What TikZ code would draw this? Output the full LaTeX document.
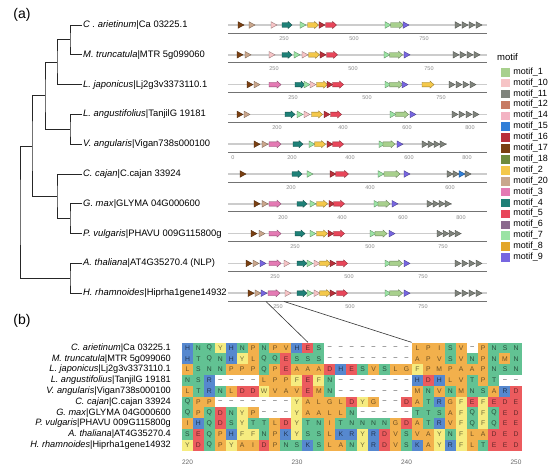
\documentclass[tikz,border=0pt]{standalone}
\usepackage{fontspec}
\setmainfont{Liberation Sans}
\usepackage{tikz}
\usetikzlibrary{positioning, calc}

% motif colours (legend order)
\definecolor{motif1}{HTML}{A8D08D}
\definecolor{motif10}{HTML}{F6C4C6}
\definecolor{motif11}{HTML}{7F837C}
\definecolor{motif12}{HTML}{C77A63}
\definecolor{motif14}{HTML}{F3B3C3}
\definecolor{motif15}{HTML}{2F7FD8}
\definecolor{motif16}{HTML}{B9303A}
\definecolor{motif17}{HTML}{7A4012}
\definecolor{motif18}{HTML}{6E8B3D}
\definecolor{motif2}{HTML}{F4C84A}
\definecolor{motif20}{HTML}{C9A68C}
\definecolor{motif3}{HTML}{E47AB4}
\definecolor{motif4}{HTML}{1E8077}
\definecolor{motif5}{HTML}{E8465A}
\definecolor{motif6}{HTML}{8B6A8E}
\definecolor{motif7}{HTML}{9BE3A4}
\definecolor{motif8}{HTML}{E3A62A}
\definecolor{motif9}{HTML}{7766E0}

% residue colours
\definecolor{resor}{HTML}{F2B04C}
\definecolor{resgr}{HTML}{62C293}
\definecolor{resye}{HTML}{F6EC80}
\definecolor{resbl}{HTML}{5688CF}
\definecolor{resrd}{HTML}{EC5B5E}
\colorlet{resgap}{white}
\colorlet{resortxt}{resor!45!black}
\colorlet{resgrtxt}{resgr!40!black}
\colorlet{resyetxt}{resye!45!black}
\colorlet{resbltxt}{resbl!40!black}
\colorlet{resrdtxt}{resrd!45!black}
\colorlet{resgaptxt}{black!80}

\newcommand\setgrp[2]{\expandafter\def\csname grp#1\endcsname{#2}}
\setgrp{A}{or}\setgrp{I}{or}\setgrp{L}{or}\setgrp{M}{or}\setgrp{V}{or}
\setgrp{P}{or}\setgrp{G}{or}\setgrp{C}{or}
\setgrp{N}{gr}\setgrp{Q}{gr}\setgrp{S}{gr}\setgrp{T}{gr}
\setgrp{F}{ye}\setgrp{Y}{ye}\setgrp{W}{ye}
\setgrp{H}{bl}\setgrp{K}{bl}\setgrp{R}{bl}
\setgrp{D}{rd}\setgrp{E}{rd}
\setgrp{-}{gap}
\def\gapchar{-}

% x/motif/length, length 0 = small triangle
\newcommand\motifrow[2]{%
  \foreach \mx/\mk/\mlen in {#2} {%
    \ifnum\mlen=0
      \path (\mx,#1) pic[fill=motif\mk, draw=motif\mk!60!black] {mtri};
    \else
      \path (\mx,#1) pic[fill=motif\mk, draw=motif\mk!60!black] {marrow=\mlen};
    \fi
  }}
% index, y, end of protein, ticks, motifs
\newcommand\track[5]{%
  \draw[backbone] (228,#2) -- (#3,#2);
  \draw[axisln] (228,#2+8) -- (487,#2+8);
  \foreach \tx/\tl in {#4} \node[ticklab] (k#1-\tl) at (\tx,#2+13.5) {\tl};
  \motifrow{#2}{#5}}

\begin{document}
\begin{tikzpicture}[
  x=1pt, y=-1pt,
  panel/.style={font=\fontsize{14}{16}\selectfont},
  tiplab/.style={anchor=west, inner sep=1pt, font=\fontsize{9.4}{10}\selectfont},
  alnlab/.style={anchor=east, inner sep=1pt, font=\fontsize{9.2}{10}\selectfont},
  branch/.style={line width=0.9pt, black!85},
  backbone/.style={line width=1.7pt, black!20},
  axisln/.style={line width=0.8pt, black!55},
  ticklab/.style={font=\fontsize{5.5}{6}\selectfont, text=black!45, inner sep=0},
  alntick/.style={font=\fontsize{6.5}{7}\selectfont, text=black!60, inner sep=0},
  rescell/.style={minimum width=11.2pt, minimum height=10.95pt, inner sep=0,
                  font=\fontsize{6.8}{7}\selectfont},
  swatch/.style={minimum width=10pt, minimum height=9.6pt, inner sep=0,
                 draw=white, line width=0.3pt},
  leglab/.style={anchor=west, inner sep=0, font=\fontsize{9}{9}\selectfont},
  zoomln/.style={line width=0.6pt, black!80},
  mtri/.pic={\filldraw[line width=0.35pt] (-3,-3.3) -- (3,0) -- (-3,3.3) -- cycle;},
  marrow/.pic={\filldraw[line width=0.35pt] ({-#1/2},-2.3) -- ({#1/2-4},-2.3)
     -- ({#1/2-4},-3.6) -- ({#1/2},0) -- ({#1/2-4},3.6) -- ({#1/2-4},2.3)
     -- ({-#1/2},2.3) -- cycle;}
]
\fill[white] (0,0) rectangle (554,471);
\useasboundingbox (0,0) rectangle (554,471);

\node[panel] (pa) at (22,15) {(a)};
\node[panel] (pb) at (22,321) {(b)};

% tree
\foreach \sp/\id [count=\i] in {C . arietinum/Ca 03225.1, M. truncatula/MTR 5g099060,
    L. japonicus/Lj2g3v3373110.1, L. angustifolius/TanjilG 19181,
    V. angularis/Vigan738s000100, C. cajan/C.cajan 33924, G. max/GLYMA 04G000600,
    P. vulgaris/PHAVU 009G115800g, A. thaliana/AT4G35270.4 (NLP),
    H. rhamnoides/Hiprha1gene14932}
  \node[tiplab] (t\i) at (82,{25+(\i-1)*29.8}) {\textit{\sp}|\id};
\coordinate (n12) at (70,39.9);
\coordinate (n123) at (57,62.25);
\coordinate (n45) at (70,129.3);
\coordinate (nA) at (45,95.8);
\coordinate (n78) at (70,218.7);
\coordinate (n678) at (57,196.35);
\coordinate (nB) at (32,146.1);
\coordinate (n910) at (70,278.3);
\coordinate (root) at (20,212.2);
\draw[branch] (t1.west) -| (n12) |- (t2.west);
\draw[branch] (n12) -| (n123) |- (t3.west);
\draw[branch] (t4.west) -| (n45) |- (t5.west);
\draw[branch] (n123) -| (nA) |- (n45);
\draw[branch] (t7.west) -| (n78) |- (t8.west);
\draw[branch] (t6.west) -| (n678) |- (n78);
\draw[branch] (nA) -| (nB) |- (n678);
\draw[branch] (t9.west) -| (n910) |- (t10.west);
\draw[branch] (nB) -| (root) |- (n910);

% motif tracks
\track{1}{25}{487}{284/250,354/500,424/750}{241/17/0,252/20/0,274/10/0,287/4/10,303/7/0,313/2/11,322/16/0,331/5/11,388/7/0,397/1/13,406/9/0,458/11/0,465/11/0,472/11/0,479/11/0}
\track{2}{54.8}{487}{274/250,353/500,429/750}{240/17/0,248/20/0,272/10/0,287/4/10,297/7/0,305/10/0,314/2/11,323/16/0,332/5/11,387/7/0,396/1/13,407/9/0,456/11/0,463/11/0,470/11/0,477/11/0}
\track{3}{84.6}{487}{293/250,367/500,441/750}{250/17/0,257/20/0,275/3/12,300/4/10,307/7/0,313/10/0,322/2/11,330/16/0,338/5/11,388/7/0,396/1/13,405/9/0,428/2/12,452/11/0,459/11/0,466/11/0,473/11/0}
\track{4}{114.4}{487}{277/200,343/400,407/600,470/800}{240/17/0,247/20/0,290/4/10,300/7/0,307/10/0,317/2/11,327/16/0,336/5/11,393/7/0,402/1/13,413/9/0,455/11/0,462/11/0,469/11/0,476/11/0}
\track{5}{144.2}{447}{233/0,292/200,350/400,409/600,467/800}{257/17/0,265/20/0,275/3/12,298/4/10,312/7/0,320/2/11,330/16/0,338/5/11,382/7/0,389/1/12,400/9/0,425/11/0,431/11/0,437/11/0,443/11/0}
\track{6}{174}{487}{291/200,370/400,450/600}{243/17/0,297/4/10,310/7/0,333/16/0,342/5/13,381/7/0,392/1/16,407/9/0,450/11/0,456/11/0,462/15/0,468/11/0}
\track{7}{203.8}{452}{283/200,342/400,403/600,461/800}{257/17/0,265/20/0,275/3/12,302/4/10,313/7/0,322/2/11,332/16/0,339/5/11,377/7/0,384/1/12,395/9/0,430/11/0,436/11/0,442/11/0,448/11/0}
\track{8}{233.6}{462}{295/250,370/500,443/750}{254/17/0,262/20/0,275/3/12,300/4/10,313/7/0,322/2/11,331/16/0,339/5/11,373/7/0,381/1/12,392/9/0,440/11/0,446/11/0,452/11/0,458/11/0}
\track{9}{263.4}{487}{275/250,349/500,423/750}{249/17/0,256/20/0,263/9/0,275/3/12,287/10/0,302/4/10,310/7/0,317/10/0,325/2/11,333/16/0,342/5/11,388/7/0,396/1/13,407/9/0,458/11/0,465/11/0,472/11/0,479/11/0}
\track{10}{293.2}{487}{278/250,350/500,423/750}{251/17/0,258/20/0,264/9/0,274/3/12,288/10/0,302/4/10,310/7/0,317/10/0,325/2/11,333/16/0,342/5/11,388/7/0,396/1/13,407/9/0,458/11/0,465/11/0,472/11/0,479/11/0}

% legend
\node[leglab, font=\fontsize{9.5}{10}\selectfont] (legtitle) at (497,57) {motif};
\foreach \m [count=\i] in {1,10,11,12,14,15,16,17,18,2,20,3,4,5,6,7,8,9} {
  \node[swatch, fill=motif\m] (sw\m) at (505,{61+\i*10.9}) {};
  \node[leglab, right=3pt of sw\m] (lg\m) {motif\_\m};
}

% alignment
\foreach \sp/\id [count=\r] in {C. arietinum/Ca 03225.1, M. truncatula/MTR 5g099060,
    L. japonicus/Lj2g3v3373110.1, L. angustifolius/TanjilG 19181,
    V. angularis/Vigan738s000100, C. cajan/C.cajan 33924, G. max/GLYMA 04G000600,
    P. vulgaris/PHAVU 009G115800g, A. thaliana/AT4G35270.4,
    H. rhamnoides/Hiprha1gene14932}
  \node[alnlab] (s\r) at (172,{342.6+(\r-0.5)*10.8}) {\textit{\sp}|\id};
\foreach \seq [count=\r] in {
    {H,N,Q,Y,H,N,P,N,P,V,H,E,S,-,-,-,-,-,-,-,-,L,P,I,S,V,-,P,N,S,N},
    {H,T,Q,N,H,Y,L,Q,Q,E,S,S,S,-,-,-,-,-,-,-,-,A,P,V,S,V,N,P,N,M,N},
    {L,S,N,N,P,P,P,Q,P,E,A,A,A,D,H,E,S,V,S,L,G,F,P,M,P,A,A,P,N,S,N},
    {N,S,R,-,-,-,-,L,P,P,F,E,F,N,-,-,-,-,-,-,-,H,D,H,L,V,T,P,T,-,-},
    {L,T,R,N,L,D,D,W,V,A,V,E,M,N,-,-,-,-,-,-,-,M,N,V,N,M,N,S,A,R,D},
    {Q,P,P,-,-,-,-,-,-,-,Y,A,L,G,L,D,Y,G,-,-,D,A,T,R,G,F,E,F,E,D,E},
    {Q,P,Q,D,N,Y,P,-,-,-,Y,A,A,L,L,N,-,-,-,-,-,T,T,S,A,F,Q,F,Q,E,D},
    {I,H,Q,D,S,Y,T,T,L,D,Y,T,N,I,T,N,N,N,N,G,D,A,T,R,V,F,Q,F,Q,E,E},
    {S,E,Q,P,H,F,F,N,P,K,Y,S,S,L,K,R,Y,R,D,V,S,V,A,Y,N,F,L,A,D,E,D},
    {Y,D,Q,P,Y,A,I,D,P,N,S,K,S,L,A,N,Y,R,D,V,S,K,A,Y,R,F,L,T,E,E,D}} {
  \foreach \res [count=\c] in \seq {
    \edef\g{\csname grp\res\endcsname}
    \node[rescell, fill=res\g, text=res\g txt] (a\r-\c)
      at ({182+(\c-0.5)*10.95},{342.6+(\r-0.5)*10.8})
      {\ifx\res\gapchar\textendash\else\res\fi};
  }
}
\foreach \p [count=\k] in {220,230,240,250}
  \node[alntick] (x\p) at ({182+(10*\k-9.5)*10.95},462) {\p};

% zoom lines from the H. rhamnoides track
\coordinate (zl) at (266,301.5);
\coordinate (zr) at (284,301.5);
\draw[zoomln] (zl) -- (a1-12.north);
\draw[zoomln] (zr) -- (a1-22.north west);
\end{tikzpicture}
\end{document}
